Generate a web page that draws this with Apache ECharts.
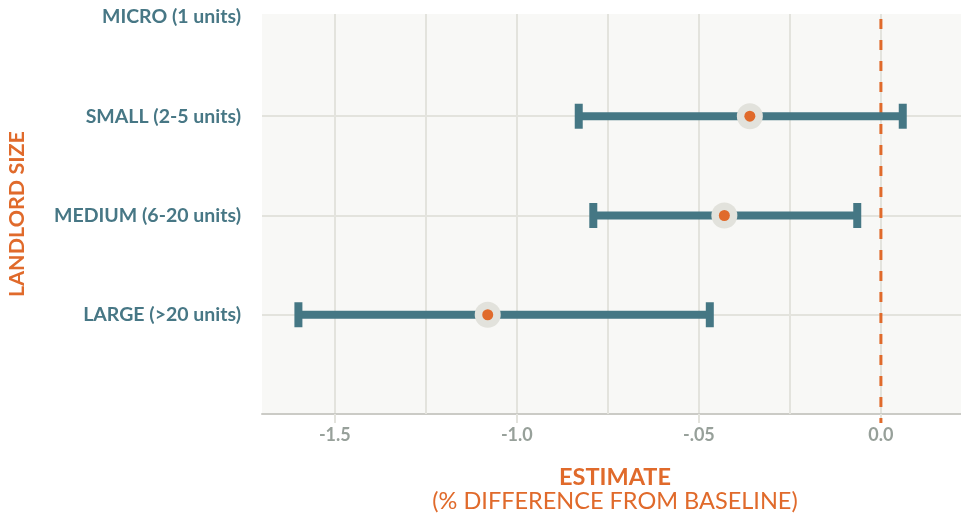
<!DOCTYPE html>
<html>
<head>
<meta charset="utf-8">
<script src="https://cdn.jsdelivr.net/npm/echarts@6/dist/echarts.min.js"></script>
<style>
  html, body { margin: 0; padding: 0; background: #ffffff; }
  #chart { width: 961px; height: 516px; }
</style>
</head>
<body>
<div id="chart"></div>
<script>
// ---- data ----
const categories = ['LARGE (>20 units)', 'MEDIUM (6-20 units)', 'SMALL (2-5 units)', 'MICRO (1 units)'];
const categoryPositions = [1, 2, 3, 4];
const estimates = [-1.08, -0.43, -0.36, null];
const lowerBounds = [-1.60, -0.79, -0.83, null];
const upperBounds = [-0.47, -0.065, 0.06, null];
const xTickValues = [-1.5, -1.0, -0.5, 0];
const xTickLabels = ['-1.5', '-1.0', '-.05', '0.0'];
const xMinorGrid = [-1.25, -0.75, -0.25];
const baseline = 0;
const baselineSpan = [3.98, -0.09];   // y extent of the dashed reference line (data units)

// ---- styles ----
const TEAL = '#457784';
const ORANGE = '#e06a2b';
const GRID = '#e3e3dd';
const FONT = 'Lato, "Open Sans", sans-serif';

const errorData = [];
const pointData = [];
categoryPositions.forEach((pos, i) => {
  if (estimates[i] !== null) {
    errorData.push([pos, lowerBounds[i], upperBounds[i]]);
    pointData.push([estimates[i], pos]);
  }
});

const chart = echarts.init(document.getElementById('chart'), null, { renderer: 'canvas' });

chart.setOption({
  animation: false,
  backgroundColor: '#ffffff',
  grid: {
    left: 262, right: 0, top: 14, bottom: 102,
    show: true, backgroundColor: '#f8f8f6', borderWidth: 0,
    outerBoundsMode: 'none'
  },
  xAxis: {
    type: 'value',
    min: -1.7,
    max: 0.22,
    axisLine: { show: true, lineStyle: { color: '#cbcbc6', width: 2 } },
    axisTick: { show: true, customValues: xTickValues, length: 9, lineStyle: { color: GRID, width: 2 } },
    axisLabel: {
      customValues: xTickValues,
      formatter: v => {
        const idx = xTickValues.findIndex(t => Math.abs(t - v) < 1e-9);
        return idx >= 0 ? xTickLabels[idx] : '';
      },
      color: '#97a09a', fontFamily: FONT, fontWeight: 'bold', fontSize: 18, margin: 12
    },
    splitLine: { show: true, lineStyle: { color: GRID, width: 2 } },
    name: '{a|ESTIMATE}\n{b|(% DIFFERENCE FROM BASELINE)}',
    nameLocation: 'middle',
    nameGap: 51,
    nameTextStyle: {
      align: 'center',
      padding: [0, 0, 0, 7],
      rich: {
        a: { color: ORANGE, fontFamily: FONT, fontWeight: 'bold', fontSize: 23.5, lineHeight: 24, align: 'center' },
        b: { color: ORANGE, fontFamily: FONT, fontWeight: 'normal', fontSize: 23.5, lineHeight: 24, align: 'center' }
      }
    }
  },
  yAxis: {
    type: 'value',
    min: 0,
    max: 4.03,
    axisLine: { show: false },
    axisTick: { show: true, customValues: [1, 2, 3], length: 11, lineStyle: { color: GRID, width: 2 } },
    axisLabel: {
      customValues: categoryPositions,
      formatter: v => {
        const idx = categoryPositions.indexOf(v);
        return idx >= 0 ? categories[idx] : '';
      },
      color: '#477785', fontFamily: FONT, fontWeight: 'bold', fontSize: 19.5, margin: 21
    },
    splitLine: { show: true, lineStyle: { color: GRID, width: 2 } },
    name: 'LANDLORD SIZE',
    nameLocation: 'middle',
    nameRotate: 90,
    nameGap: 234,
    nameTextStyle: { color: ORANGE, fontFamily: FONT, fontWeight: 'bold', fontSize: 21.5 }
  },
  series: [
    {
      type: 'scatter',
      data: [],
      z: 1,
      silent: true,
      markLine: {
        silent: true,
        z: 1,
        symbol: 'none',
        label: { show: false },
        lineStyle: { color: GRID, width: 2, type: 'solid' },
        data: xMinorGrid.map(v => ({ xAxis: v }))
      }
    },
    {
      type: 'custom',
      z: 2,
      clip: false,
      silent: true,
      encode: { x: 0, y: [1, 2] },
      data: [[baseline, baselineSpan[0], baselineSpan[1]]],
      renderItem: (params, api) => {
        const x = api.value(0);
        const pTop = api.coord([x, api.value(1)]);
        const pBot = api.coord([x, api.value(2)]);
        return {
          type: 'line',
          shape: { x1: pTop[0], y1: pTop[1], x2: pBot[0], y2: pBot[1] },
          style: { stroke: ORANGE, lineWidth: 3, lineDash: [10, 11] }
        };
      }
    },
    {
      type: 'custom',
      z: 3,
      silent: true,
      encode: { x: [1, 2], y: 0 },
      data: errorData,
      renderItem: (params, api) => {
        const y = api.value(0);
        const pL = api.coord([api.value(1), y]);
        const pH = api.coord([api.value(2), y]);
        const capW = 8, capH = 25;
        return {
          type: 'group',
          children: [
            { type: 'line', shape: { x1: pL[0], y1: pL[1], x2: pH[0], y2: pH[1] }, style: { stroke: TEAL, lineWidth: 8 } },
            { type: 'rect', shape: { x: pL[0] - capW / 2, y: pL[1] - capH / 2, width: capW, height: capH }, style: { fill: TEAL } },
            { type: 'rect', shape: { x: pH[0] - capW / 2, y: pH[1] - capH / 2, width: capW, height: capH }, style: { fill: TEAL } }
          ]
        };
      }
    },
    {
      type: 'scatter',
      z: 4,
      silent: true,
      data: pointData,
      symbol: 'circle',
      symbolSize: 26,
      itemStyle: { color: '#e2e2dc', opacity: 1 }
    },
    {
      type: 'scatter',
      z: 5,
      silent: true,
      data: pointData,
      symbol: 'circle',
      symbolSize: 11,
      itemStyle: { color: ORANGE, opacity: 1 }
    }
  ]
});
</script>
</body>
</html>
